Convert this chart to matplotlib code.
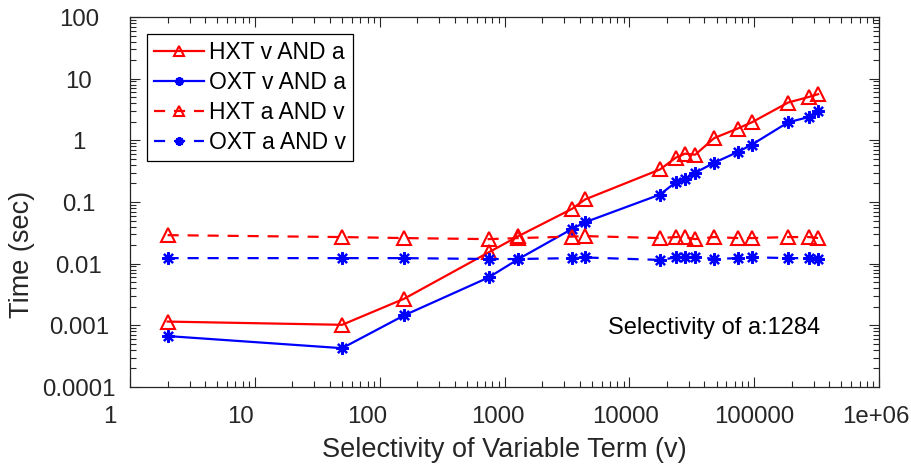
import matplotlib
matplotlib.use("Agg")
import matplotlib.pyplot as plt
import matplotlib.transforms as mtransforms
from matplotlib.ticker import LogLocator, FixedLocator, NullFormatter

plt.rcParams['font.family'] = ['Liberation Sans', 'DejaVu Sans']

# selectivity of the variable term v
v = [2, 50, 157, 749, 1294, 3478, 4422, 17600, 23600, 27900, 33700,
     47900, 73600, 95800, 187000, 275000, 325000]

# query times (sec)
hxt_va = [0.00115, 0.00102, 0.0027, 0.0153, 0.028, 0.0775, 0.11, 0.337, 0.524,
          0.608, 0.585, 1.09, 1.55, 1.96, 4.1, 5.06, 5.6]
oxt_va = [0.00067, 0.000426, 0.00145, 0.006, 0.0119, 0.0366, 0.047, 0.132, 0.21,
          0.232, 0.298, 0.434, 0.645, 0.851, 1.96, 2.39, 3.0]
hxt_av = [0.029, 0.027, 0.026, 0.025, 0.026, 0.0275, 0.028, 0.026, 0.027, 0.027,
          0.025, 0.027, 0.026, 0.026, 0.027, 0.027, 0.026]
oxt_av = [0.0123, 0.0123, 0.0123, 0.0119, 0.0119, 0.0123, 0.0126, 0.0115, 0.0126,
          0.0126, 0.013, 0.0119, 0.0123, 0.0127, 0.0123, 0.0123, 0.0119]

xticks = [1, 10, 100, 1000, 10000, 100000, 1e6]
xticklabels = ['1', '10', '100', '1000', '10000', '100000', '1e+06']
# the exported figure draws the x labels a little left of their ticks (px)
xlabel_shift = [-20, -14.5, -12, -6.5, -3.5, 0, -3]
yticks = [1e-4, 1e-3, 1e-2, 1e-1, 1, 10, 100]
yticklabels = ['0.0001', '0.001', '0.01', '0.1', '1', '10', '100']

dark = '#262626'
fig = plt.figure(figsize=(9.12, 4.67), dpi=100)
ax = fig.add_axes([130/912, 80/467, 749/912, 370/467])

tri = dict(marker='^', ms=10, mfc='none', mew=1.5)
ast = dict(marker=(8, 2, 0), ms=9, mew=1.6)
ax.plot(v, hxt_va, color='red', lw=1.6, label='HXT v AND a', **tri)
ax.plot(v, oxt_va, color='blue', lw=1.6, label='OXT v AND a', **ast)
ax.plot(v, hxt_av, color='red', lw=1.6, dashes=(5, 4), label='HXT a AND v', **tri)
ax.plot(v, oxt_av, color='blue', lw=1.6, dashes=(5, 4), label='OXT a AND v', **ast)

ax.set_xscale('log')
ax.set_yscale('log')
ax.set_xlim(1, 1e6)
ax.set_ylim(1e-4, 100)
ax.xaxis.set_major_locator(FixedLocator(xticks))
ax.yaxis.set_major_locator(FixedLocator(yticks))
ax.xaxis.set_minor_locator(LogLocator(base=10, subs=range(2, 10), numticks=20))
ax.yaxis.set_minor_locator(LogLocator(base=10, subs=range(2, 10), numticks=20))
ax.xaxis.set_major_formatter(NullFormatter())
ax.yaxis.set_major_formatter(NullFormatter())
ax.xaxis.set_minor_formatter(NullFormatter())
ax.yaxis.set_minor_formatter(NullFormatter())

ax.tick_params(which='both', direction='in', top=True, right=True, colors=dark, width=0.8)
ax.tick_params(which='major', length=7)
ax.tick_params(which='minor', length=4)
for s in ax.spines.values():
    s.set_color(dark)
    s.set_linewidth(0.9)

# tick labels, placed the way the original export places them
xtr = mtransforms.blended_transform_factory(ax.transData, ax.transAxes)
for xt, lab, dx in zip(xticks, xticklabels, xlabel_shift):
    off = mtransforms.ScaledTranslation(dx / 100, -36 / 100, fig.dpi_scale_trans)
    ax.text(xt, 0, lab, transform=xtr + off, ha='center', va='baseline',
            fontsize=17.3, color=dark)
ytr = mtransforms.blended_transform_factory(ax.transAxes, ax.transData)
for yt, lab in zip(yticks, yticklabels):
    off = mtransforms.ScaledTranslation(-51 / 100, -9 / 100, fig.dpi_scale_trans)
    ax.text(0, yt, lab, transform=ytr + off, ha='center', va='baseline',
            fontsize=17.3, color=dark)

ax.set_xlabel('Selectivity of Variable Term (v)', fontsize=19.5, color=dark)
ax.xaxis.set_label_coords(0.4993, -0.170)
ax.xaxis.label.set_va('center')
ax.set_ylabel('Time (sec)', fontsize=19.5, color=dark)
ax.yaxis.set_label_coords(-0.144, 0.359)
ax.yaxis.label.set_va('center')

ax.text(6790, 0.00091, 'Selectivity of a:1284', fontsize=17, ha='left', va='center')

leg = ax.legend(loc='upper left', bbox_to_anchor=(0.0227, 0.953), borderaxespad=0,
                fontsize=16.5, fancybox=False, edgecolor='black', framealpha=1,
                handlelength=2.2, handletextpad=0.2, labelspacing=0.3, borderpad=0.3,
                markerscale=0.7)
leg.get_frame().set_linewidth(0.9)

fig.savefig('out.png', dpi=100)
